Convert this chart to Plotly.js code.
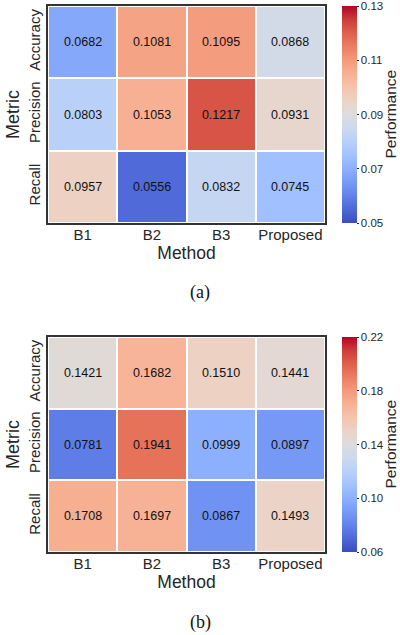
<!DOCTYPE html>
<html>
<head>
<meta charset="utf-8">
<script src="https://cdn.plot.ly/plotly-3.0.1.min.js"></script>
<style>html,body{margin:0;padding:0;background:#fff;}#chart{width:400px;height:635px;}</style>
</head>
<body>
<div id="chart"></div>
<script>
const methods = ['B1', 'B2', 'B3', 'Proposed'];
const metrics = ['Accuracy', 'Precision', 'Recall'];
const valuesA = [
  [0.0682, 0.1081, 0.1095, 0.0868],
  [0.0803, 0.1053, 0.1217, 0.0931],
  [0.0957, 0.0556, 0.0832, 0.0745]
];
const valuesB = [
  [0.1421, 0.1682, 0.1510, 0.1441],
  [0.0781, 0.1941, 0.0999, 0.0897],
  [0.1708, 0.1697, 0.0867, 0.1493]
];
const ticksA = [0.05, 0.07, 0.09, 0.11, 0.13];
const ticksB = [0.06, 0.10, 0.14, 0.18, 0.22];
const captions = ['(a)', '(b)'];
const cbarTitle = 'Performance';

const coolwarm = [
  [0.0, 'rgb(59,76,192)'], [0.0625, 'rgb(77,104,215)'], [0.125, 'rgb(98,130,234)'],
  [0.1875, 'rgb(119,154,246)'], [0.25, 'rgb(141,176,254)'], [0.3125, 'rgb(163,194,255)'],
  [0.375, 'rgb(184,208,249)'], [0.4375, 'rgb(204,217,238)'], [0.5, 'rgb(221,220,220)'],
  [0.5625, 'rgb(236,211,197)'], [0.625, 'rgb(245,196,173)'], [0.6875, 'rgb(247,177,148)'],
  [0.75, 'rgb(244,154,123)'], [0.8125, 'rgb(235,126,99)'], [0.875, 'rgb(222,96,77)'],
  [0.9375, 'rgb(203,62,56)'], [1.0, 'rgb(180,4,38)']
];

const FONT = 'Liberation Sans, Arial, sans-serif';
const INK = '#262626';
const domA = [(635 - 223) / 635, (635 - 6) / 635];
const domB = [(635 - 552) / 635, (635 - 337) / 635];
const xdom = [48 / 400, 325 / 400];

function hm(z, xa, ya, ticks, dom) {
  return {
    type: 'heatmap', x: methods, y: metrics, z: z, xaxis: xa, yaxis: ya,
    colorscale: coolwarm, zmin: ticks[0], zmax: ticks[ticks.length - 1],
    xgap: 2, ygap: 2,
    texttemplate: '%{z:.4f}', textfont: {family: FONT, size: 12.5, color: '#111'},
    hoverongaps: false,
    colorbar: {
      x: 342 / 400, xanchor: 'left', xref: 'paper', xpad: 0, ypad: 0,
      y: dom[0], yanchor: 'bottom', len: dom[1] - dom[0], lenmode: 'fraction',
      thickness: 15, thicknessmode: 'pixels', outlinewidth: 0,
      tickvals: ticks, tickformat: '.2f', ticks: 'outside', ticklen: 2, tickwidth: 1,
      ticklabeloverflow: 'allow',
      tickcolor: INK, tickfont: {family: FONT, size: 11.5, color: INK}
    }
  };
}

function xax(anchor) {
  return {
    domain: xdom, anchor: anchor, showline: true, mirror: true, linecolor: '#333', linewidth: 2,
    ticks: '', showgrid: false, zeroline: false, ticklabelstandoff: -3,
    tickfont: {family: FONT, size: 15, color: INK},
    title: {text: 'Method', font: {family: FONT, size: 17.5, color: INK}, standoff: 0}
  };
}
function yax(anchor, dom) {
  return {
    domain: dom, anchor: anchor, autorange: 'reversed', showline: true, mirror: true,
    linecolor: '#333', linewidth: 2, ticks: '', showgrid: false, zeroline: false,
    tickangle: -90, tickfont: {family: FONT, size: 15, color: INK},
    title: {text: 'Metric', font: {family: FONT, size: 18, color: INK}, standoff: 2}
  };
}

function cap(text, ypx) {
  return {text: text, xref: 'paper', yref: 'paper', x: 200 / 400, y: (635 - ypx) / 635,
    xanchor: 'center', yanchor: 'middle', showarrow: false,
    font: {family: 'Liberation Serif, Times New Roman, serif', size: 18, color: '#111'}};
}
function cbt(dom) {
  return {text: cbarTitle, xref: 'paper', yref: 'paper', x: 390 / 400, y: (dom[0] + dom[1]) / 2,
    xanchor: 'center', yanchor: 'middle', textangle: -90, showarrow: false, borderpad: 0,
    font: {family: FONT, size: 15.5, color: INK}};
}

const data = [hm(valuesA, 'x', 'y', ticksA, domA), hm(valuesB, 'x2', 'y2', ticksB, domB)];
const layout = {
  width: 400, height: 635, margin: {l: 0, r: 0, t: 0, b: 0, autoexpand: false},
  paper_bgcolor: '#fff', plot_bgcolor: '#fff',
  font: {family: FONT, color: INK},
  xaxis: xax('y'), yaxis: yax('x', domA),
  xaxis2: xax('y2'), yaxis2: yax('x2', domB),
  annotations: [cap(captions[0], 292), cap(captions[1], 622), cbt(domA), cbt(domB)]
};
Plotly.newPlot('chart', data, layout, {displayModeBar: false, staticPlot: true});
</script>
</body>
</html>
